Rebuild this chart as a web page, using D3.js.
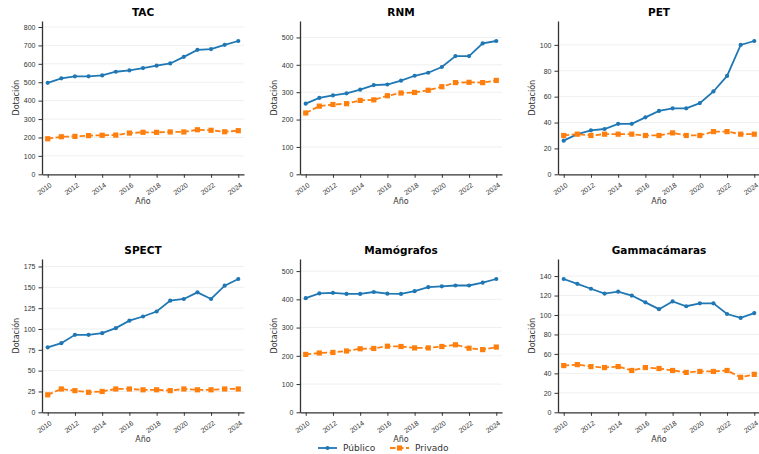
<!DOCTYPE html>
<html>
<head>
<meta charset="utf-8">
<script src="https://cdn.jsdelivr.net/npm/d3@7"></script>
<style>
    body { margin: 0; background: #fff; }
    svg { display: block; font-family: "DejaVu Sans", sans-serif; }
    .grid line { stroke: #ebebeb; stroke-width: 0.8; }
    .axis path, .axis line { stroke: #333; }
    .axis text { fill: #333; font-size: 7px; }
</style>
</head>
<body>
<script>
// Data
let years = d3.range(2010, 2025);
let titles = ["TAC", "RNM", "PET", "SPECT", "Mamógrafos", "Gammacámaras"];
let seriesNames = ["Público", "Privado"];

let tacPublico = [497, 521, 532, 532, 537, 557, 564, 577, 590, 602, 638, 676, 680, 703, 724];
let tacPrivado = [193, 204, 206, 210, 212, 213, 224, 228, 228, 230, 230, 242, 239, 231, 237];
let rnmPublico = [258, 279, 288, 296, 309, 326, 328, 342, 360, 371, 392, 432, 432, 478, 487];
let rnmPrivado = [224, 249, 255, 258, 270, 272, 287, 297, 299, 307, 320, 335, 336, 335, 343];
let petPublico = [26, 31, 34, 35, 39, 39, 44, 49, 51, 51, 55, 64, 76, 100, 103];
let petPrivado = [30, 31, 30, 31, 31, 31, 30, 30, 32, 30, 30, 33, 33, 31, 31];
let spectPublico = [78, 83, 93, 93, 95, 101, 110, 115, 121, 134, 136, 144, 136, 152, 160];
let spectPrivado = [21, 28, 26, 24, 25, 28, 28, 27, 27, 26, 28, 27, 27, 28, 28];
let mamoPublico = [404, 421, 423, 419, 419, 426, 420, 419, 429, 443, 446, 449, 449, 459, 472];
let mamoPrivado = [205, 210, 212, 217, 225, 226, 234, 233, 228, 228, 233, 239, 227, 222, 231];
let gammaPublico = [137, 132, 127, 122, 124, 120, 113, 106, 114, 109, 112, 112, 101, 97, 102];
let gammaPrivado = [48, 49, 47, 46, 47, 43, 46, 45, 43, 41, 42, 42, 43, 36, 39];

let publico = [tacPublico, rnmPublico, petPublico, spectPublico, mamoPublico, gammaPublico];
let privado = [tacPrivado, rnmPrivado, petPrivado, spectPrivado, mamoPrivado, gammaPrivado];
let yTickSteps = [100, 100, 20, 25, 100, 20];
let xTicks = d3.range(2010, 2025, 2);

let colors = ["#1f77b4", "#ff7f0e"];

// Layout
let W = 759, H = 454;
let colX = [42, 300, 558];
let rowY = [21, 259];
let pw = 202, ph = 153.3;

let svg = d3.select("body")
    .append("svg")
    .attr("width", W)
    .attr("height", H);

let line = d3.line();

titles.forEach((title, i) => {
    let ox = colX[i % 3], oy = rowY[Math.floor(i / 3)];
    let pub = publico[i], pri = privado[i];
    let maxV = d3.max(pub.concat(pri)) * 1.15;

    let x = d3.scaleLinear().domain([2009.58, 2024.42]).range([0, pw]);
    let y = d3.scaleLinear().domain([0, maxV]).range([ph, 0]);
    let yTicks = d3.range(0, maxV, yTickSteps[i]);

    let g = svg.append("g").attr("transform", `translate(${ox},${oy})`);

    // grid
    g.append("g").attr("class", "grid")
        .selectAll("line")
        .data(yTicks.slice(1))
        .enter()
        .append("line")
        .attr("x1", 0).attr("x2", pw)
        .attr("y1", d => y(d)).attr("y2", d => y(d));

    // series
    [pub, pri].forEach((vals, s) => {
        let pts = vals.map((v, j) => [x(years[j]), y(v)]);
        g.append("path")
            .attr("d", line(pts))
            .attr("fill", "none")
            .attr("stroke", colors[s])
            .attr("stroke-width", 1.8)
            .attr("stroke-dasharray", s ? "5.5,2.5" : null);
        if (s === 0) {
            g.selectAll(".m0")
                .data(pts).enter()
                .append("circle")
                .attr("cx", d => d[0]).attr("cy", d => d[1])
                .attr("r", 2.1)
                .attr("fill", colors[0]);
        } else {
            g.selectAll(".m1")
                .data(pts).enter()
                .append("rect")
                .attr("x", d => d[0] - 2.6).attr("y", d => d[1] - 2.6)
                .attr("width", 5.2).attr("height", 5.2)
                .attr("fill", colors[1]);
        }
    });

    // axes
    let ax = g.append("g").attr("class", "axis")
        .attr("transform", `translate(0,${ph})`)
        .call(d3.axisBottom(x).tickValues(xTicks).tickFormat(d3.format("d")).tickSize(3.5).tickSizeOuter(0));
    ax.selectAll("text")
        .attr("text-anchor", "end")
        .attr("dy", null)
        .attr("y", 0)
        .attr("transform", "translate(4,12) rotate(-35)");
    ax.select(".domain").attr("stroke-width", 1.3);

    let ay = g.append("g").attr("class", "axis")
        .call(d3.axisLeft(y).tickValues(yTicks).tickFormat(d3.format("d")).tickSize(3.5).tickSizeOuter(0));
    ay.select(".domain").attr("stroke-width", 1.3);

    // labels
    g.append("text")
        .attr("x", pw / 2).attr("y", -5)
        .attr("text-anchor", "middle")
        .attr("font-size", 10.5)
        .attr("font-weight", "bold")
        .text(title);

    g.append("text")
        .attr("x", pw / 2).attr("y", ph + 30)
        .attr("text-anchor", "middle")
        .attr("font-size", 8)
        .attr("fill", "#333")
        .text("Año");

    g.append("text")
        .attr("transform", `translate(-23,${ph / 2}) rotate(-90)`)
        .attr("text-anchor", "middle")
        .attr("font-size", 8)
        .attr("fill", "#333")
        .text("Dotación");
});

// Legend
let legend = svg.append("g").attr("transform", "translate(318,448)");
seriesNames.forEach((name, s) => {
    let lg = legend.append("g").attr("transform", `translate(${s * 72},0)`);
    lg.append("line")
        .attr("x1", 0).attr("x2", 19)
        .attr("stroke", colors[s])
        .attr("stroke-width", 1.8)
        .attr("stroke-dasharray", s ? "5.5,2.5" : null);
    if (s === 0)
        lg.append("circle").attr("cx", 9.5).attr("r", 2.1).attr("fill", colors[0]);
    else
        lg.append("rect").attr("x", 6.9).attr("y", -2.6).attr("width", 5.2).attr("height", 5.2).attr("fill", colors[1]);
    lg.append("text")
        .attr("x", 25).attr("y", 3.3)
        .attr("font-size", 9)
        .attr("fill", "#333")
        .text(name);
});
</script>
</body>
</html>
